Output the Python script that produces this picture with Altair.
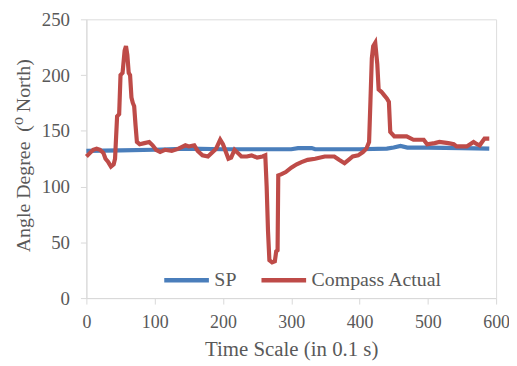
import altair as alt
import pandas as pd

# Compass Actual (red)
red_t = [0, 5, 10, 15, 20, 25, 28, 32, 36, 40, 42, 45, 48, 50, 53, 56, 58, 60, 62, 64, 66, 68, 70, 72, 74,
         78, 85, 92, 97, 102, 108, 115, 125, 135, 145, 150, 158, 163, 170, 178, 185, 190, 196, 200, 205,
         208, 212, 217, 222, 227, 235, 242, 250, 258, 262, 264, 266, 268, 272, 276, 278, 280, 281, 285,
         292, 300, 308, 315, 324, 335, 349, 363, 370, 378, 384, 390, 398, 405, 410, 414, 416, 418, 420,
         423, 426, 428, 432, 436, 440, 443, 445, 451, 460, 469, 479, 494, 499, 510, 517, 530, 538, 542,
         557, 567, 572, 576, 583, 590]
red_v = [127, 130, 133, 134, 133, 130, 125, 122, 118, 120, 125, 163, 165, 200, 202, 222, 226, 218, 202, 200,
         180, 175, 172, 155, 140, 138, 139, 140, 137, 133, 131, 133, 132, 134, 137, 136, 137, 132, 128,
         127, 131, 134, 142, 138, 130, 125, 126, 133, 130, 127, 127, 128, 126, 127, 128, 100, 60, 34, 32,
         33, 42, 43, 110, 111, 113, 117, 120, 122, 124, 125, 127, 127, 124, 121, 124, 127, 128, 131, 134,
         140, 177, 215, 226, 229, 210, 187, 185, 182, 179, 176, 149, 145, 145, 145, 142, 142, 138, 139,
         140, 139, 138, 136, 136, 140, 138, 137, 143, 143]

# SP (blue)
blue_t = [0, 50, 100, 150, 200, 250, 300, 310, 330, 335, 400, 440, 450, 460, 470, 500, 550, 590]
blue_v = [132, 132.5, 133, 134, 133.5, 133.5, 133.5, 134.5, 134.5, 133.5, 133.5, 134, 135, 136.5, 135,
          135, 134.5, 134]

series_names = ["SP", "Compass Actual"]
series_colors = ["#4A7EBB", "#BE4B48"]

blue_df = pd.DataFrame({"t": blue_t, "v": blue_v, "s": series_names[0]})
red_df = pd.DataFrame({"t": red_t, "v": red_v, "s": series_names[1]})

FONT = "Liberation Serif, Times New Roman, DejaVu Serif, serif"
GRAY = "#595959"
AXC = "#d9d9d9"

color = alt.Color(
    "s:N",
    scale=alt.Scale(domain=series_names, range=series_colors),
    legend=alt.Legend(
        title=None, orient="none", direction="horizontal",
        legendX=76, legendY=238,
        symbolType="stroke", symbolSize=2025, symbolStrokeWidth=4.5,
        labelFont=FONT, labelFontSize=20, labelColor=GRAY,
        columnPadding=15, labelOffset=3, padding=0,
    ),
)

x = alt.X("t:Q", scale=alt.Scale(domain=[0, 600], nice=False),
          axis=alt.Axis(values=[0, 100, 200, 300, 400, 500, 600], title="Time Scale (in 0.1 s)",
                        grid=False, domainColor=AXC, tickColor=AXC, tickSize=6, labelFlush=False,
                        labelFont=FONT, labelFontSize=18, labelColor=GRAY, labelPadding=10,
                        titleFont=FONT, titleFontSize=21, titleColor=GRAY, titleFontWeight="normal",
                        titlePadding=7))
y = alt.Y("v:Q", scale=alt.Scale(domain=[0, 250], nice=False),
          axis=alt.Axis(values=[0, 50, 100, 150, 200, 250], title="Angle Degree\u00a0\u00a0(\u2070 North)",
                        grid=False, domainColor=AXC, tickColor=AXC, tickSize=6, labelFlush=False,
                        labelFont=FONT, labelFontSize=19, labelColor=GRAY, labelPadding=11,
                        titleFont=FONT, titleFontSize=20, titleColor=GRAY, titleFontWeight="normal",
                        titlePadding=8, titleY=137))

blue = alt.Chart(blue_df).mark_line(strokeWidth=4.2).encode(x=x, y=y, color=color)
red = alt.Chart(red_df).mark_line(strokeWidth=4.2).encode(x=x, y=y, color=color)

chart = alt.layer(blue, red).properties(
    width=413, height=281,
    autosize=alt.AutoSizeParams(type="none"),
    padding={"left": 79, "top": 10, "right": 13, "bottom": 63},
).configure_view(stroke=None).configure(background="white")

chart.save("out.html", embed_options={"renderer": "svg", "actions": False})
